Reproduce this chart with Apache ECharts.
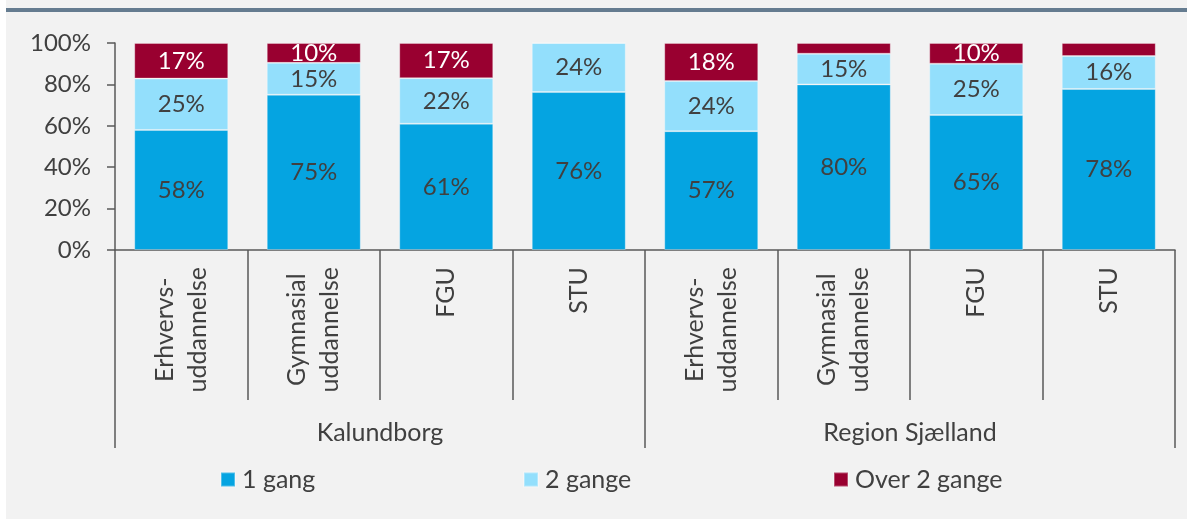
<!DOCTYPE html>
<html>
<head>
<meta charset="utf-8">
<script src="https://cdn.jsdelivr.net/npm/echarts@6/dist/echarts.min.js"></script>
<style>
  html, body { margin: 0; padding: 0; background: #ffffff; }
  #chart { width: 1187px; height: 521px; }
</style>
</head>
<body>
<div id="chart"></div>
<script>
// ---- Data ----
const categories = ['Erhvervs-\nuddannelse', 'Gymnasial\nuddannelse', 'FGU', 'STU',
                    'Erhvervs-\nuddannelse', 'Gymnasial\nuddannelse', 'FGU', 'STU'];
const groups = ['Kalundborg', 'Region Sjælland'];
const seriesNames = ['1 gang', '2 gange', 'Over 2 gange'];
const once  = [58, 75, 61, 76.3, 57.4, 80, 65.2, 77.8];
const twice = [24.8, 15.4, 22, 23.7, 24.2, 14.8, 24.8, 15.9];
const over  = [17.2, 9.6, 17, 0, 18.4, 5.2, 10, 6.3];
const yTicks = { min: 0, max: 100, interval: 20 };

// ---- Style ----
const FONT = 'Lato';
const TXT = '#404040';
const AXIS = '#595959';
const colors = ['#05A4E1', '#93DFFC', '#990030'];

const chart = echarts.init(document.getElementById('chart'), null, { renderer: 'canvas' });

function segLabel(color) {
  return {
    show: true,
    position: 'inside',
    color: color,
    fontFamily: FONT,
    fontSize: 24,
    formatter: p => (p.value >= 8 ? Math.round(p.value) + '%' : '')
  };
}

const seriesData = [once, twice, over];
const labelColors = [TXT, TXT, '#ffffff'];

const series = seriesNames.map((name, i) => ({
  name: name,
  type: 'bar',
  stack: 'total',
  barWidth: 94,
  data: seriesData[i],
  itemStyle: { color: colors[i], borderColor: 'rgba(255,255,255,0.3)', borderWidth: 1 },
  label: segLabel(labelColors[i]),
  emphasis: { disabled: true }
}));

function legendAt(left, idx) {
  return {
    show: true,
    left: left,
    top: 462,
    orient: 'horizontal',
    data: [seriesNames[idx]],
    icon: 'rect',
    itemWidth: 14,
    itemHeight: 14,
    selectedMode: false,
    textStyle: { fontFamily: FONT, fontSize: 25, color: TXT, lineHeight: 25, padding: [0, 0, 0, 2] }
  };
}

const option = {
  animation: false,
  backgroundColor: 'transparent',
  textStyle: { fontFamily: FONT },
  graphic: [
    { type: 'rect', z: -100, shape: { x: 6, y: 0, width: 1181, height: 519 }, style: { fill: '#f2f2f2' }, silent: true },
    { type: 'rect', z: -90, shape: { x: 6, y: 8, width: 1181, height: 4 }, style: { fill: '#657c90' }, silent: true }
  ],
  grid: { left: 115, right: 12, top: 43, bottom: 271, containLabel: false, outerBoundsMode: 'none' },
  legend: [legendAt(215, 0), legendAt(518, 1), legendAt(828, 2)],
  xAxis: [
    {
      type: 'category',
      position: 'bottom',
      data: categories,
      boundaryGap: true,
      axisLine: { show: true, lineStyle: { color: AXIS, width: 1.5 } },
      axisTick: { show: true, interval: 0, length: 150, alignWithLabel: false, lineStyle: { color: AXIS, width: 1.5 } },
      axisLabel: {
        interval: 0,
        rotate: 90,
        margin: 17,
        formatter: v => v.split('\n').map(l => '{c|' + l + '}').join('\n'),
        rich: { c: { align: 'center', fontFamily: FONT, fontSize: 25, lineHeight: 33, color: TXT } }
      },
      splitLine: { show: false }
    },
    {
      type: 'category',
      position: 'bottom',
      offset: 0,
      data: groups,
      boundaryGap: true,
      axisLine: { show: false },
      axisTick: { show: true, interval: 0, length: 198, lineStyle: { color: AXIS, width: 1.5 } },
      axisLabel: { interval: 0, margin: 170, fontFamily: FONT, fontSize: 25, lineHeight: 25, color: TXT },
      splitLine: { show: false }
    }
  ],
  yAxis: {
    type: 'value',
    min: yTicks.min,
    max: yTicks.max,
    interval: yTicks.interval,
    axisLine: { show: true, lineStyle: { color: AXIS, width: 1.5 } },
    axisTick: { show: true, length: 8, lineStyle: { color: AXIS, width: 1.5 } },
    axisLabel: { margin: 24, fontFamily: FONT, fontSize: 24, color: TXT, formatter: '{value}%' },
    splitLine: { show: false }
  },
  series: series
};

chart.setOption(option);
</script>
</body>
</html>
